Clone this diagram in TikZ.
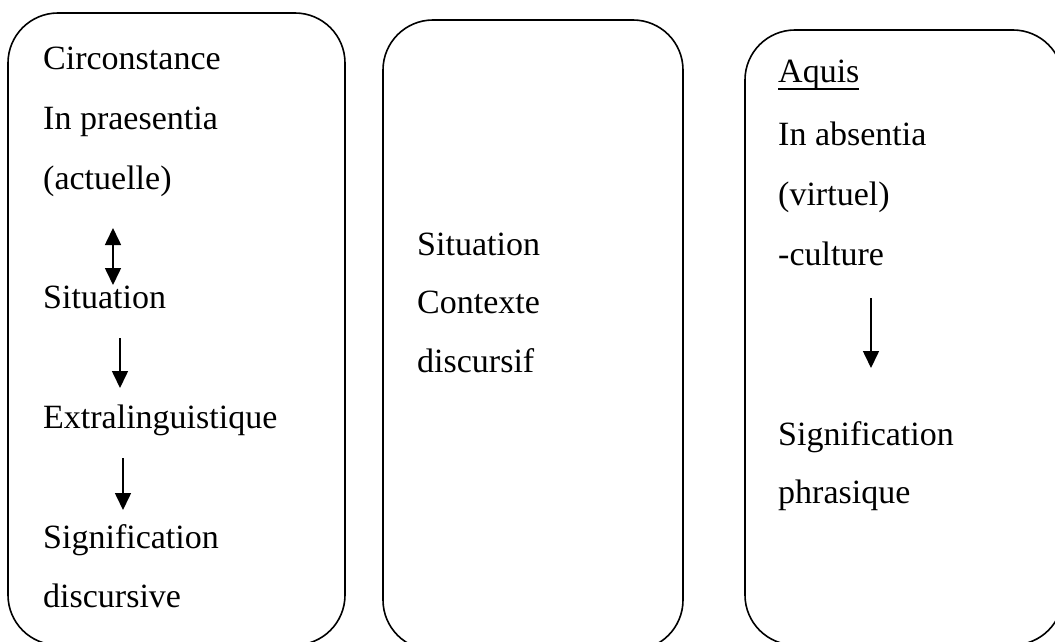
\documentclass[tikz,border=0pt]{standalone}
\usepackage{fontspec}
\setmainfont{Liberation Serif}
\usepackage{tikz}
\usetikzlibrary{positioning,arrows.meta}

\begin{document}
\begin{tikzpicture}[
      x=1pt, y=-1pt,
      box/.style={draw, line width=1.6pt, rounded corners=50pt, inner sep=0pt},
      txt/.style={anchor=base west, inner sep=0pt, font=\fontsize{34}{40}\selectfont},
      arrow/.style={-{Triangle[length=17pt, width=16pt]}, line width=1.6pt},
      dblarrow/.style={{Triangle[length=17pt, width=16pt]}-{Triangle[length=17pt, width=16pt]}, line width=1.6pt}
    ]
    \useasboundingbox (0,0) rectangle (1055,642);
    \clip (0,0) rectangle (1055,642);

    % the three boxes
    \node[box, minimum width=337pt, minimum height=632pt] (left) at (176.5,329) {};
    \node[box, minimum width=300pt, minimum height=630pt] (mid) at (533,335) {};
    \node[box, minimum width=318pt, minimum height=615pt] (right) at (904,337.5) {};

    % left box
    \node[txt] (circ) at (43,70) {Circonstance};
    \node[txt] (praes) at (43,129) {In praesentia};
    \node[txt] (actu) at (43,189) {(actuelle)};
    \node[txt] (sit) at (43,308) {Situation};
    \node[txt] (extra) at (43,428) {Extralinguistique};
    \node[txt] (signd) at (43,548) {Signification};
    \node[txt] (disc) at (43,607) {discursive};

    \coordinate (d1) at (113,228);
    \coordinate (d2) at (113,285);
    \coordinate (s1) at (120,338);
    \coordinate (s2) at (120,388);
    \coordinate (e1) at (123,458);
    \coordinate (e2) at (123,510);

    \draw[dblarrow] (d1) -- (d2);
    \draw[arrow] (s1) -- (s2);
    \draw[arrow] (e1) -- (e2);

    % middle box
    \node[txt] (msit) at (417,255) {Situation};
    \node[txt] (mctx) at (417,313) {Contexte};
    \node[txt] (mdisc) at (417,372) {discursif};

    % right box
    \node[txt] (aquis) at (778,83) {\rlap{\rule[-7pt]{81pt}{2pt}}Aquis};
    \node[txt] (abs) at (778,145) {In absentia};
    \node[txt] (virt) at (778,205) {(virtuel)};
    \node[txt] (cult) at (778,265) {-culture};
    \node[txt] (signp) at (778,445) {Signification};
    \node[txt] (phras) at (778,503) {phrasique};

    \coordinate (c1) at (871,298);
    \coordinate (c2) at (871,368);
    \draw[arrow] (c1) -- (c2);
  \end{tikzpicture}
\end{document}
